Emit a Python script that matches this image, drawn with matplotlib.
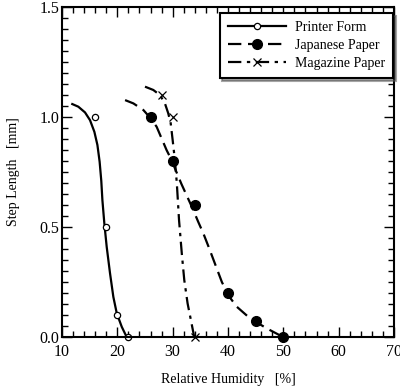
import numpy as np
import matplotlib.pyplot as plt
from matplotlib.ticker import MultipleLocator

plt.rcParams['font.family'] = ['Liberation Serif', 'DejaVu Serif']

# measured points
pf_x = [16, 18, 20, 22]
pf_y = [1.0, 0.5, 0.1, 0.0]
jp_x = [26, 30, 34, 40, 45, 50]
jp_y = [1.0, 0.8, 0.6, 0.2, 0.075, 0.0]
mg_x = [28, 30, 34]
mg_y = [1.1, 1.0, 0.0]

# fitted curves
pf_cx = [11.86, 12.95, 14.16, 15.06, 15.85, 16.4, 16.8, 17.1, 17.3, 17.65, 18.08, 18.68,
         19.28, 19.9, 20.8, 21.7]
pf_cy = [1.059, 1.047, 1.021, 0.986, 0.933, 0.873, 0.797, 0.71, 0.623, 0.517, 0.41, 0.29,
         0.183, 0.108, 0.047, 0.0]
jp_cx = [21.4, 22.9, 24.7, 26.0, 27.1, 28.0, 28.9, 29.8, 30.6, 31.6, 32.6, 33.6, 34.6,
         35.55, 36.5, 37.4, 38.9, 40.2, 41.6, 44.0, 47.0, 50.0]
jp_cy = [1.077, 1.062, 1.032, 0.995, 0.956, 0.903, 0.85, 0.805, 0.755, 0.695, 0.64, 0.585, 0.525,
         0.471, 0.41, 0.35, 0.25, 0.185, 0.138, 0.085, 0.04, 0.0]
mg_cx = [25.0, 26.5, 27.7, 28.6, 29.2, 29.65, 30.0, 30.4, 30.75, 31.15, 31.65, 32.1, 32.7,
         33.3, 33.9]
mg_cy = [1.138, 1.123, 1.1, 1.062, 1.017, 0.971, 0.895, 0.805, 0.7, 0.532, 0.38, 0.259, 0.153,
         0.077, 0.0]

fig = plt.figure(figsize=(4.0, 3.88), dpi=100)
ax = fig.add_axes([0.155, 0.131, 0.83, 0.851])

kw = dict(color='black', lw=1.6, solid_joinstyle='round', dash_joinstyle='round')
ax.plot(pf_cx, pf_cy, '-', **kw)
ax.plot(jp_cx, jp_cy, dashes=(6, 3), **kw)
ax.plot(mg_cx, mg_cy, dashes=(6, 2.5, 1.5, 2.5), **kw)
ax.plot(pf_x, pf_y, 'o', mfc='white', mec='black', ms=4.5, mew=0.9, clip_on=False)
ax.plot(jp_x, jp_y, 'o', color='black', ms=7, clip_on=False)
ax.plot(mg_x, mg_y, 'x', color='black', ms=6, mew=0.9, clip_on=False)

# legend handles
h1, = ax.plot([], [], '-', marker='o', mfc='white', mec='black', ms=4.5, mew=0.9, **kw)
h2, = ax.plot([], [], dashes=(6, 3), marker='o', ms=7, **kw)
h3, = ax.plot([], [], dashes=(6, 2.5, 1.5, 2.5), marker='x', ms=6, mew=0.9, **kw)
leg = ax.legend([h1, h2, h3], ['Printer Form', 'Japanese Paper', 'Magazine Paper'],
                loc='upper right', bbox_to_anchor=(0.997, 0.982), fontsize=10,
                frameon=True, fancybox=False, shadow=True, framealpha=1,
                edgecolor='black', handlelength=4.2, borderpad=0.6,
                labelspacing=0.35, handletextpad=0.6, borderaxespad=0)
leg.get_frame().set_linewidth(1.5)

ax.set_xlim(10, 70)
ax.set_ylim(0, 1.5)
ax.set_xticks([10, 20, 30, 40, 50, 60, 70])
ax.set_yticks([0.0, 0.5, 1.0, 1.5])
ax.set_yticklabels(['0.0', '0.5', '1.0', '1.5'])
ax.xaxis.set_minor_locator(MultipleLocator(2))
ax.yaxis.set_minor_locator(MultipleLocator(0.05))
ax.tick_params(which='both', direction='in', top=True, right=True, labelsize=11.5, width=1)
ax.tick_params(which='major', length=7)
ax.tick_params(which='minor', length=4)
ax.tick_params(axis='x', pad=5)
ax.tick_params(axis='y', pad=2)
for s in ax.spines.values():
    s.set_linewidth(1.5)

ax.set_xlabel('Relative Humidity   [%]', fontsize=10, labelpad=9)
ax.set_ylabel('Step Length   [mm]', fontsize=10, labelpad=14)

fig.savefig('out.png', dpi=100)
